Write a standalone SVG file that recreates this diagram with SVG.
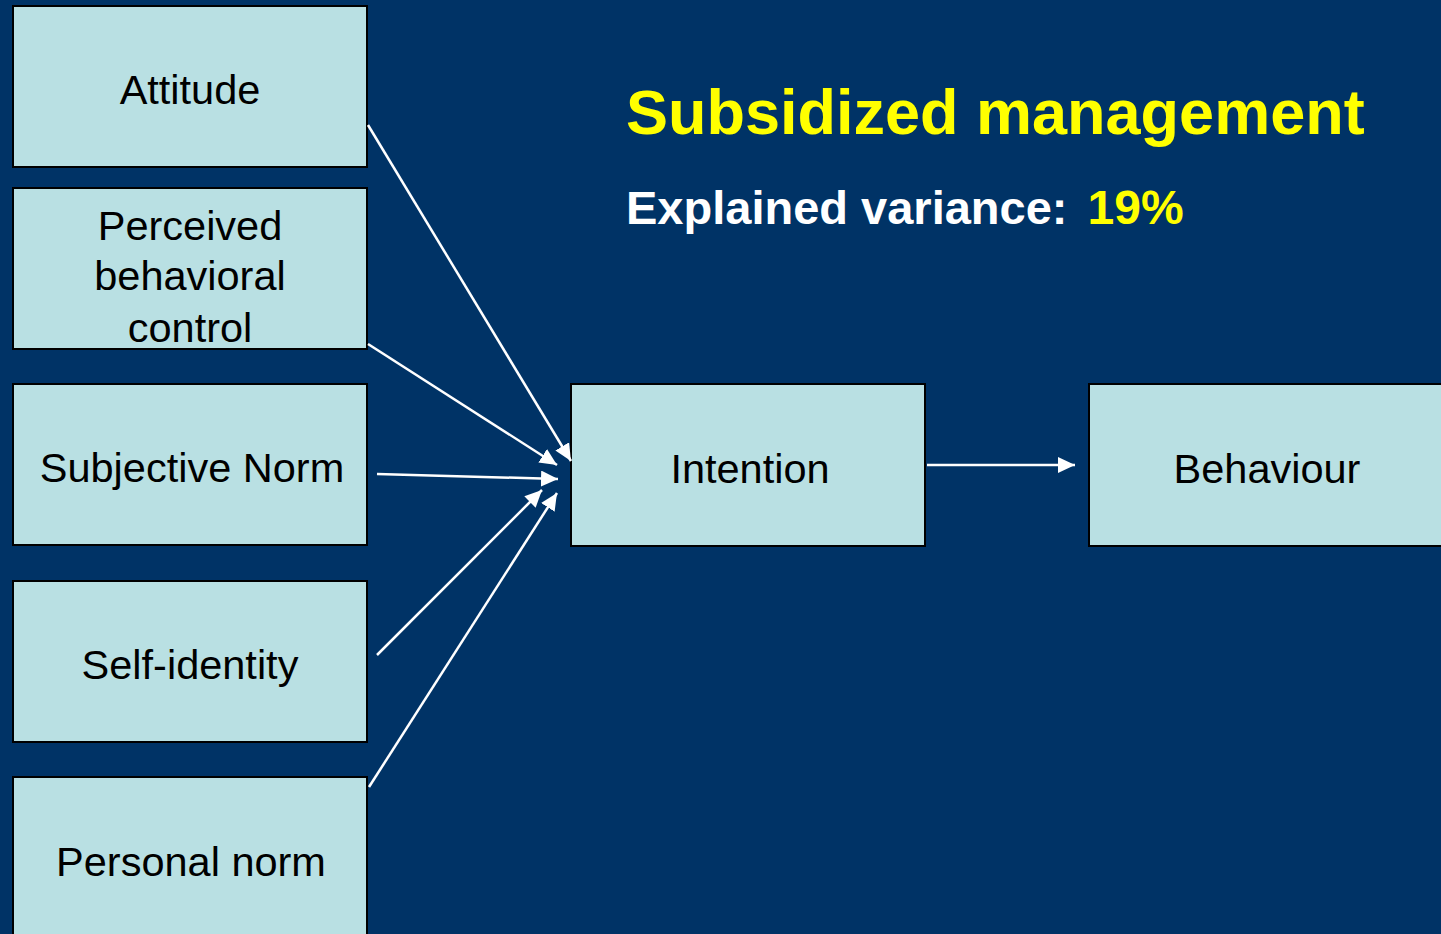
<svg xmlns="http://www.w3.org/2000/svg" width="1441" height="934" viewBox="0 0 1441 934">
<style>
.box{fill:#b9e0e3;stroke:#000;stroke-width:2}
.lbl{font-family:"Liberation Sans",Arial,sans-serif;font-size:41.5px;fill:#000;text-anchor:middle}
.conn{stroke:#fff;stroke-width:2.5;fill:none;marker-end:url(#ah)}
.title{font-family:"Liberation Sans",Arial,sans-serif;font-weight:bold}
</style>
<defs>
<marker id="ah" markerUnits="userSpaceOnUse" markerWidth="18" markerHeight="16" refX="17" refY="8" orient="auto">
<path d="M0,0 L17,8 L0,16 Z" fill="#fff"/>
</marker>
</defs>
<rect width="1441" height="934" fill="#003366"/>
<text class="title" x="626" y="134" font-size="63" fill="#ffff00">Subsidized management</text>
<text class="title" x="626" y="224" font-size="47" fill="#ffffff">Explained variance:<tspan fill="#ffff00" dx="20" font-size="48">19%</tspan></text>
<g id="attitude"><rect class="box" x="13" y="6" width="354" height="161"/><text class="lbl" x="190" y="104">Attitude</text></g>
<g id="pbc"><rect class="box" x="13" y="188" width="354" height="161"/><text class="lbl" x="190" y="240" font-size="42.5">Perceived</text><text class="lbl" x="190" y="290" font-size="42.5">behavioral</text><text class="lbl" x="190" y="342" font-size="42.5">control</text></g>
<g id="subjective-norm"><rect class="box" x="13" y="384" width="354" height="161"/><text class="lbl" x="192" y="482">Subjective Norm</text></g>
<g id="self-identity"><rect class="box" x="13" y="581" width="354" height="161"/><text class="lbl" x="190" y="679">Self-identity</text></g>
<g id="personal-norm"><rect class="box" x="13" y="777" width="354" height="170"/><text class="lbl" x="191" y="876">Personal norm</text></g>
<g id="intention"><rect class="box" x="571" y="384" width="354" height="162"/><text class="lbl" x="750" y="483">Intention</text></g>
<g id="behaviour"><rect class="box" x="1089" y="384" width="360" height="162"/><text class="lbl" x="1267" y="483">Behaviour</text></g>
<g id="connectors">
<line class="conn" x1="368" y1="125" x2="571" y2="461"/>
<line class="conn" x1="368" y1="344" x2="557" y2="465"/>
<line class="conn" x1="377" y1="474" x2="558" y2="479"/>
<line class="conn" x1="377" y1="655" x2="542" y2="490"/>
<line class="conn" x1="369" y1="787" x2="557" y2="493"/>
<line class="conn" x1="927" y1="465" x2="1075" y2="465"/>
</g>
</svg>
